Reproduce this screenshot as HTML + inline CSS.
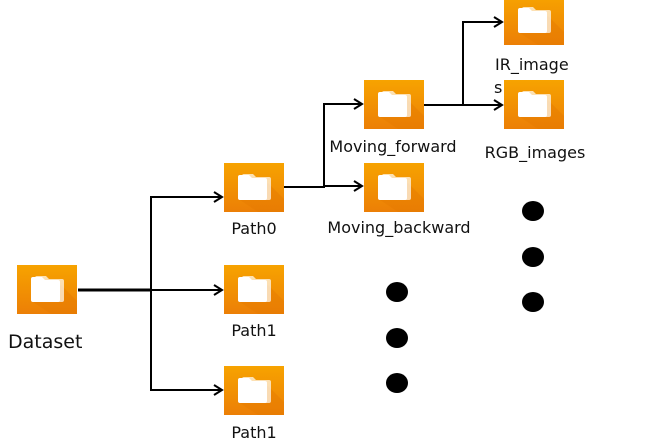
<!DOCTYPE html>
<html><head><style>
html,body{margin:0;padding:0;background:#fff;}
svg{display:block;}
.t{font-family:"DejaVu Sans","Liberation Sans",sans-serif;fill:#111;font-size:16px;}
.ln{stroke:#000;stroke-width:2px;fill:none;}
</style></head><body>
<svg width="647" height="446" viewBox="0 0 647 446" xmlns="http://www.w3.org/2000/svg">
<defs>
<linearGradient id="g" x1="0" y1="0" x2="0" y2="1">
<stop offset="0" stop-color="#f7a300"/><stop offset="1" stop-color="#ec7f06"/>
</linearGradient>
<g id="f">
<rect x="0" y="0" width="60" height="49" fill="url(#g)"/>
<path d="M44 20 L60 36 L60 49 L34 49 L16 37 Z" fill="#e47800" opacity="0.4"/>
<path d="M18 13 q0-2 2-2 h9 l3 3 h13 q2 0 2 2 v19 q0 2-2 2 h-25 q-2 0-2-2 z" fill="#fff" opacity="0.7"/>
<path d="M14 14 q0-2 2-2 h9 l3 3 h13 q2 0 2 2 v18 q0 2-2 2 h-25 q-2 0-2-2 z" fill="#fff"/>
</g>
<marker id="a" markerWidth="12" markerHeight="12" refX="9" refY="6" orient="auto" markerUnits="userSpaceOnUse">
<path d="M1 1 L9 6 L1 11" style="fill:none;stroke:#000;stroke-width:2px"/>
</marker>
</defs>
<line class="ln" x1="78" y1="290" x2="151" y2="290" style="stroke-width:3px"/>
<line class="ln" x1="151" y1="196" x2="151" y2="391"/>
<line class="ln" x1="150" y1="197" x2="222" y2="197" marker-end="url(#a)"/>
<line class="ln" x1="151" y1="290" x2="222" y2="290" marker-end="url(#a)"/>
<line class="ln" x1="150" y1="390" x2="222" y2="390" marker-end="url(#a)"/>
<line class="ln" x1="284" y1="187" x2="324" y2="187"/>
<line class="ln" x1="324" y1="103" x2="324" y2="188"/>
<line class="ln" x1="323" y1="104" x2="362" y2="104" marker-end="url(#a)"/>
<line class="ln" x1="324" y1="186" x2="362" y2="186" marker-end="url(#a)"/>
<line class="ln" x1="424" y1="105" x2="502" y2="105" marker-end="url(#a)"/>
<line class="ln" x1="463" y1="22" x2="463" y2="106"/>
<line class="ln" x1="462" y1="22" x2="502" y2="22" marker-end="url(#a)"/>
<use href="#f" x="17" y="265"/>
<use href="#f" x="224" y="163"/>
<use href="#f" x="224" y="265"/>
<use href="#f" x="224" y="366"/>
<use href="#f" x="364" y="80"/>
<use href="#f" x="364" y="163"/>
<use href="#f" x="504" y="-4"/>
<use href="#f" x="504" y="80"/>
<text class="t" x="8" y="348" style="font-size:19px">Dataset</text>
<text class="t" x="254" y="234" text-anchor="middle">Path0</text>
<text class="t" x="254" y="336" text-anchor="middle">Path1</text>
<text class="t" x="254" y="438" text-anchor="middle">Path1</text>
<text class="t" x="393" y="152" text-anchor="middle">Moving_forward</text>
<text class="t" x="399" y="233" text-anchor="middle">Moving_backward</text>
<text class="t" x="495" y="70">IR_image</text>
<text class="t" x="494" y="93">s</text>
<text class="t" x="535" y="158" text-anchor="middle">RGB_images</text>
<g fill="#000">
<ellipse cx="397" cy="292" rx="11" ry="10"/>
<ellipse cx="397" cy="338" rx="11" ry="10"/>
<ellipse cx="397" cy="383" rx="11" ry="10"/>
<ellipse cx="533" cy="211" rx="11" ry="10"/>
<ellipse cx="533" cy="257" rx="11" ry="10"/>
<ellipse cx="533" cy="302" rx="11" ry="10"/>
</g>
</svg>
</body></html>
